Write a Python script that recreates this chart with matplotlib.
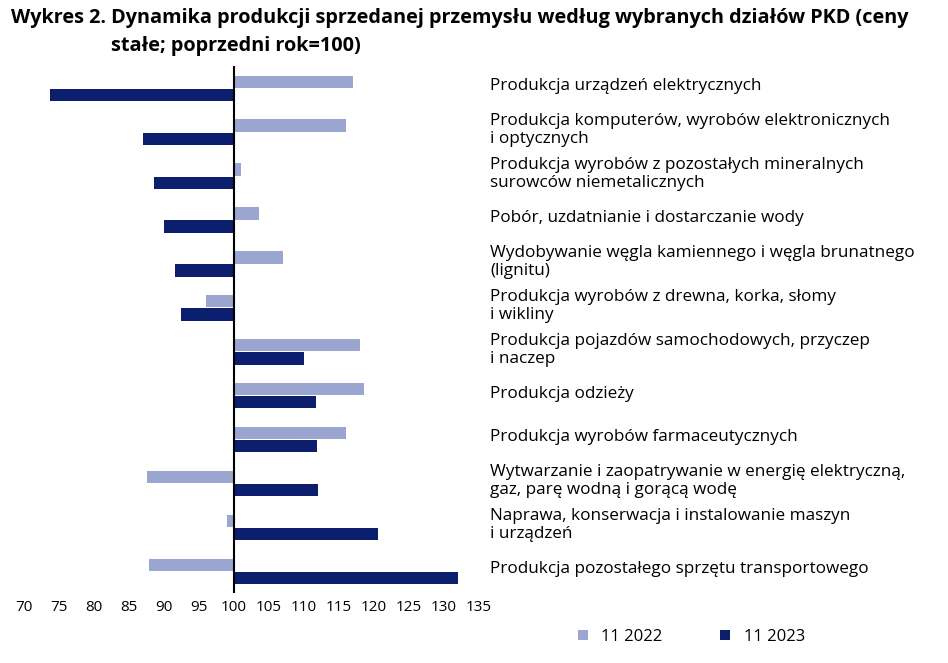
import matplotlib
matplotlib.use("Agg")
import matplotlib.pyplot as plt
import matplotlib.transforms as mtransforms
import numpy as np

plt.rcParams['font.family'] = ['Open Sans', 'DejaVu Sans']

categories = [
    "Produkcja urządzeń elektrycznych",
    "Produkcja komputerów, wyrobów elektronicznych\ni optycznych",
    "Produkcja wyrobów z pozostałych mineralnych\nsurowców niemetalicznych",
    "Pobór, uzdatnianie i dostarczanie wody",
    "Wydobywanie węgla kamiennego i węgla brunatnego\n(lignitu)",
    "Produkcja wyrobów z drewna, korka, słomy\ni wikliny",
    "Produkcja pojazdów samochodowych, przyczep\ni naczep",
    "Produkcja odzieży",
    "Produkcja wyrobów farmaceutycznych",
    "Wytwarzanie i zaopatrywanie w energię elektryczną,\ngaz, parę wodną i gorącą wodę",
    "Naprawa, konserwacja i instalowanie maszyn\ni urządzeń",
    "Produkcja pozostałego sprzętu transportowego",
]
v2022 = [117.0, 116.1, 101.1, 103.6, 107.0, 96.0, 118.1, 118.6, 116.1, 87.6, 99.0, 87.9]
v2023 = [73.7, 87.1, 88.6, 90.1, 91.6, 92.4, 110.1, 111.7, 111.9, 112.0, 120.6, 132.0]
ticks = list(range(70, 136, 5))

c22 = "#9aa6d0"
c23 = "#0c1f6e"

fig = plt.figure(figsize=(9.48, 6.63), dpi=100)
ax = fig.add_axes([0.025, 0.105, 0.48, 0.795])

y = np.arange(len(categories))
h = 0.28
ax.barh(y - h / 2 - 0.01, np.array(v2022) - 100, left=100, height=h, color=c22, label="11 2022")
ax.barh(y + h / 2 + 0.01, np.array(v2023) - 100, left=100, height=h, color=c23, label="11 2023")
ax.set_ylim(len(categories) - 0.5, -0.5)
ax.set_xlim(70, 135)
ax.set_xticks(ticks)
ax.tick_params(axis='x', length=0, labelsize=11, pad=5)
ax.set_yticks([])
for s in ax.spines.values():
    s.set_visible(False)
ax.axvline(100, color="black", lw=1.5)

trans = mtransforms.blended_transform_factory(ax.transAxes, ax.transData)
for i, lab in enumerate(categories):
    ax.text(1.025, i - 0.05, lab, transform=trans, va="center", ha="left", fontsize=12.3, linespacing=1.15)

fig.text(0.012, 0.988, "Wykres 2. Dynamika produkcji sprzedanej przemysłu według wybranych działów PKD (ceny",
         fontsize=14.3, fontweight="bold", va="top")
fig.text(0.117, 0.946, "stałe; poprzedni rok=100)", fontsize=14.3, fontweight="bold", va="top")

fig.legend(loc="lower right", bbox_to_anchor=(0.865, 0.005), ncol=2, frameon=False,
           fontsize=12, handlelength=0.6, handleheight=0.6, columnspacing=3.5)

fig.savefig("out.png", dpi=100)
